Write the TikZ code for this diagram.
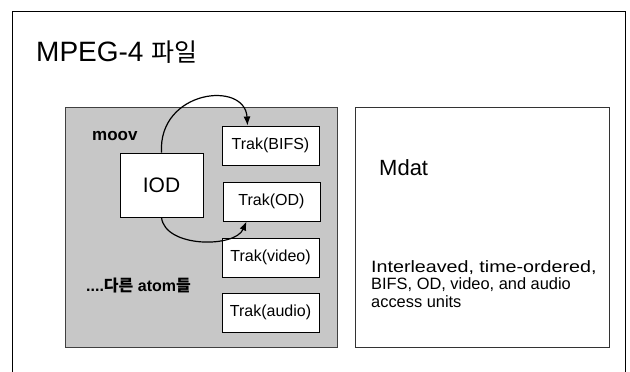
\documentclass[tikz,border=0pt]{standalone}
\usepackage{fontspec}
\setmainfont{Liberation Sans}
\newfontfamily\kr{Noto Sans CJK KR}
\newfontfamily\widefont[FakeStretch=1.2]{Liberation Sans}
\usetikzlibrary{arrows.meta}
\tikzset{
  frameline/.style={draw=black, line width=1pt},
  moovbox/.style={draw=black!75, line width=1pt, fill=black!22},
  mdatbox/.style={draw=black!80, line width=0.9pt, fill=white},
  trakbox/.style={draw=black, line width=0.9pt, fill=white, minimum width=97pt, minimum height=39pt, inner sep=0pt, font=\fontsize{16}{17}\selectfont},
  iodbox/.style={draw=black, line width=0.9pt, fill=white, minimum width=83pt, minimum height=64pt, inner sep=0pt, font=\fontsize{21}{22}\selectfont},
  curvearrow/.style={draw=black, line width=1.2pt, -{Latex[length=9pt,width=7pt]}},
}
\begin{document}
\begin{tikzpicture}[x=1pt,y=-1pt]
\useasboundingbox (0,0) rectangle (630,372);
% outer frame (bottom cut off)
\draw[frameline] (12,372) -- (12,11) -- (625,11) -- (625,372);
% title
\node[anchor=west, inner sep=0pt, font=\fontsize{28}{30}\selectfont] (title) at (36,52) {MPEG-4 {\kr\fontsize{25}{28}\selectfont 파일}};
% moov container
\node[moovbox, anchor=north west, minimum width=272pt, minimum height=240pt, inner sep=0pt] (moov) at (65,107) {};
\node[anchor=west, inner sep=0pt, font=\fontsize{17}{18}\bfseries\selectfont] (moovlabel) at (92,136) {moov};
\node[anchor=west, inner sep=0pt, font=\fontsize{16}{17}\bfseries\selectfont] (others) at (86,286) {....{\kr 다른} atom{\kr 들}};
% IOD
\node[iodbox] (iod) at (161.5,185) {IOD};
% tracks
\node[trakbox] (bifs) at (270.5,145.5) {Trak(BIFS)};
\node[trakbox] (od) at (271.5,201.5) {Trak(OD)};
\node[trakbox] (video) at (270.5,257.5) {Trak(video)};
\node[trakbox] (audio) at (270.5,312.5) {Trak(audio)};
% arrows
\draw[curvearrow] (iod.north) .. controls (158,90) and (245,80) .. ([xshift=-23pt]bifs.north);
\draw[curvearrow] (iod.south) .. controls (165,248) and (235,248) .. ([xshift=-25pt]od.south);
% mdat container
\node[mdatbox, anchor=north west, minimum width=254pt, minimum height=240pt, inner sep=0pt] (mdat) at (355,107) {};
\node[anchor=west, inner sep=0pt, font=\fontsize{22}{24}\selectfont] (mdatlabel) at (379,168) {Mdat};
\node[anchor=north west, inner sep=0pt, align=left, font=\fontsize{16.4}{17.5}\selectfont] (mdattext) at (371,260) {{\widefont Interleaved, time-ordered,}\\BIFS, OD, video, and audio\\access units};
\end{tikzpicture}
\end{document}
